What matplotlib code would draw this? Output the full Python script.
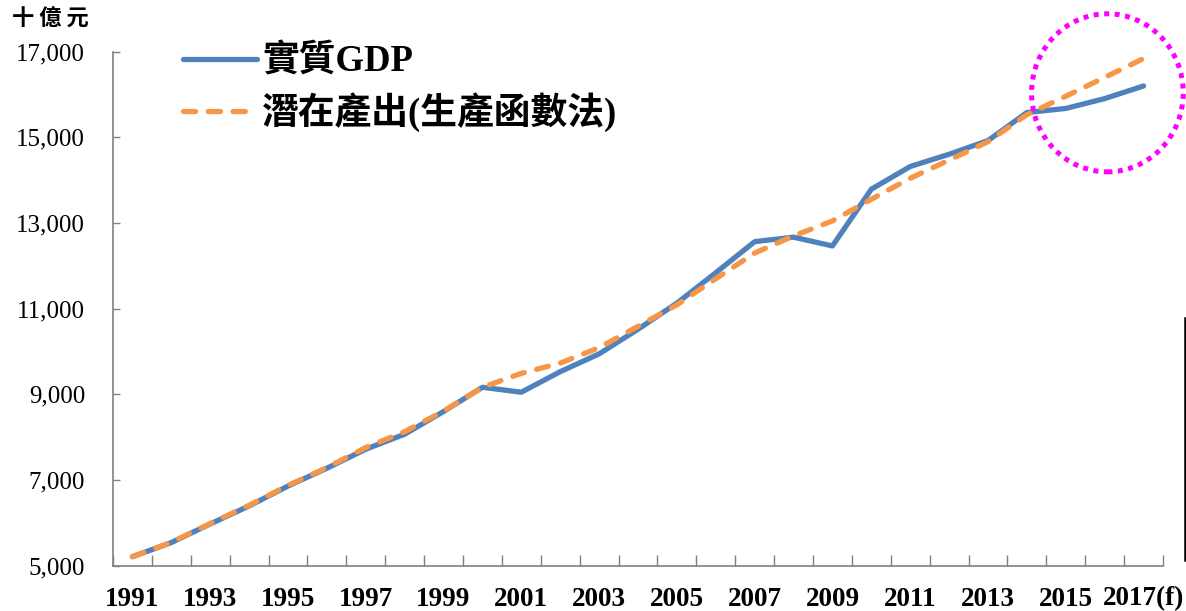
import numpy as np
import matplotlib
matplotlib.use('Agg')
import matplotlib.pyplot as plt
from matplotlib.patches import Ellipse
from matplotlib.lines import Line2D

# Data (billion NT$)
years = list(range(1991, 2018))
tick_labels = [str(y) if (y - 1991) % 2 == 0 else '' for y in years]
tick_labels[-1] = '2017(f)'

real_gdp = [5210, 5540, 5975, 6395, 6860, 7275, 7720, 8070, 8600, 9165,
            9050, 9530, 9945, 10520, 11130, 11840, 12565, 12670, 12465, 13790,
            14320, 14605, 14925, 15580, 15675, 15905, 16200]
potential = [5210, 5545, 5985, 6410, 6875, 7290, 7760, 8130, 8610, 9165,
             9490, 9730, 10090, 10590, 11090, 11700, 12300, 12700, 13050, 13555,
             14045, 14470, 14900, 15530, 15960, 16400, 16840]

serif = ['Liberation Serif', 'Noto Sans CJK TC']
cjk = ['Noto Sans CJK TC', 'Liberation Serif']

fig = plt.figure(figsize=(11.86, 6.11), dpi=100)
ax = fig.add_axes([113 / 1186, 1 - 565.7 / 611, 1050 / 1186, 514 / 611])

x = np.arange(len(years))
ax.plot(x, real_gdp, color='#4F81BD', lw=3.8, solid_capstyle='round',
        solid_joinstyle='round', label='實質GDP', zorder=3)
ax.plot(x, potential, color='#F79646', lw=3.8, dashes=(2.3, 2.4),
        dash_capstyle='round', label='潛在產出(生產函數法)', zorder=4)

ax.set_xlim(-0.5, len(years) - 0.5)
ax.set_ylim(5000, 17000)

# y axis
ax.set_yticks(range(5000, 17001, 2000))
ax.set_yticklabels([f'{v:,}' for v in range(5000, 17001, 2000)],
                   family=serif, fontsize=18)
ax.tick_params(axis='y', direction='in', length=5, width=1, color='#808080', pad=20)

# x axis: ticks between categories, labels at category centres
ax.set_xticks(np.arange(-0.5, len(years), 1))
ax.set_xticklabels([])
ax.tick_params(axis='x', which='major', direction='in', length=8, width=1, color='#808080')
ax.set_xticks(x, minor=True)
ax.set_xticklabels(tick_labels, minor=True, family=serif, fontsize=19.5, fontweight='bold')
ax.tick_params(axis='x', which='minor', length=0, pad=15)

for side in ['top', 'right']:
    ax.spines[side].set_visible(False)
for side in ['left', 'bottom']:
    ax.spines[side].set_color('#808080')
    ax.spines[side].set_linewidth(1.2)

leg = ax.legend(loc='upper left', bbox_to_anchor=(183 / 1186, 1 - 45 / 611),
                bbox_transform=fig.transFigure, frameon=False,
                prop={'family': serif, 'weight': 'bold', 'size': 26.5},
                handlelength=2.0, handletextpad=0.15, labelspacing=0.33,
                borderpad=0, borderaxespad=0)

# unit label
fig.text(12 / 1186, 1 - 19 / 611, '十 億 元', family=cjk, fontweight='bold',
         fontsize=16, ha='left', va='center')

# highlight circle around the forecast years
circle = Ellipse((25.07, 16040), width=3.9, height=3690, fill=False,
                 edgecolor='#FF00FF', lw=3.6, linestyle=(0, (1, 1.1)),
                 clip_on=False, zorder=5)
ax.add_patch(circle)

# black vertical bar at the right edge
fig.add_artist(Line2D([1184.5 / 1186, 1184.5 / 1186], [1 - 318 / 611, 1 - 560 / 611],
                      color='black', lw=1.8, transform=fig.transFigure))

fig.savefig('out.png', dpi=100)
